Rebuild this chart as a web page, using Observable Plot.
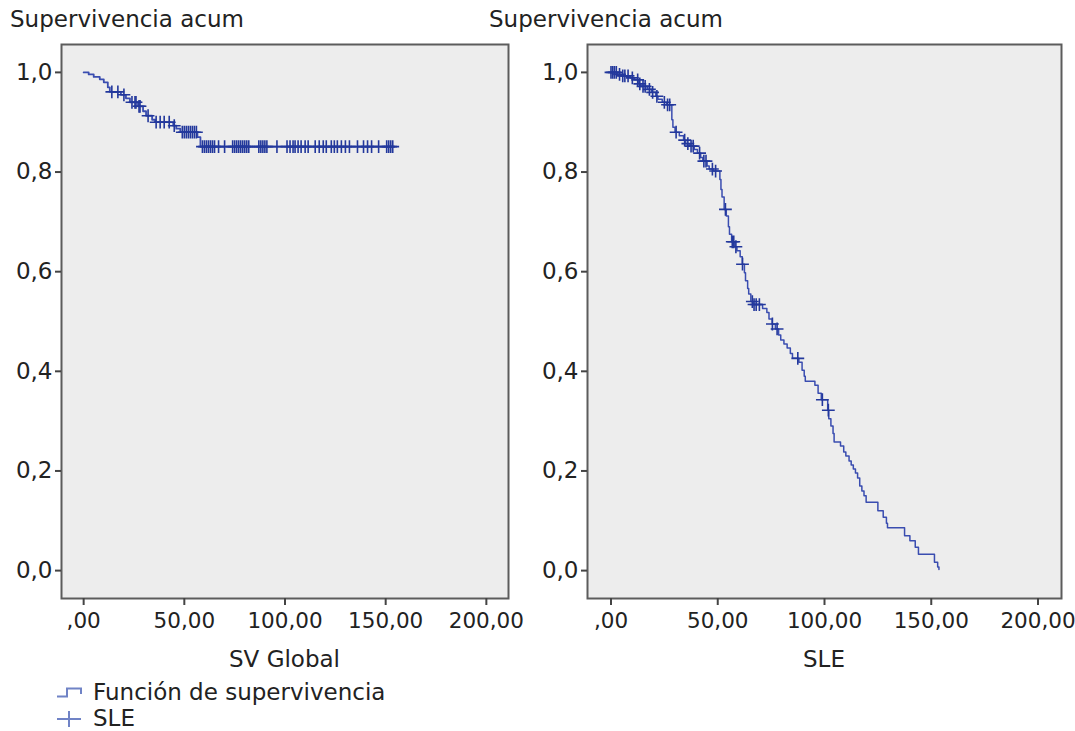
<!DOCTYPE html>
<html><head><meta charset="utf-8">
<script src="https://cdn.jsdelivr.net/npm/d3@7"></script>
<script src="https://cdn.jsdelivr.net/npm/@observablehq/plot@0.6"></script>
<style>
body{margin:0;background:#fff;font-family:"DejaVu Sans",sans-serif;color:#222;}
#wrap{position:relative;width:1075px;height:731px;overflow:hidden;background:#fff}
.t{position:absolute;font-size:23px;line-height:23px;white-space:nowrap;color:#222}
.p{position:absolute;top:0}
</style></head><body><div id="wrap"></div>
<script>
// ---- Data ----
const yTitle = "Supervivencia acum";
const leftXLabel = "SV Global";
const rightXLabel = "SLE";
const legendLabels = ["Función de supervivencia", "SLE"];

const xTickValues = [0, 50, 100, 150, 200];
const xTickLabels = [",00", "50,00", "100,00", "150,00", "200,00"];
const yTickValues = [0, 0.2, 0.4, 0.6, 0.8, 1.0];
const yTickLabels = ["0,0", "0,2", "0,4", "0,6", "0,8", "1,0"];

// Left panel: SV Global (step times and survival after each step; last = end of follow-up)
const leftStepTimes = [0, 2.5, 5, 8, 10, 12, 13, 18.5, 21, 23, 27, 29.5, 31, 34, 35.5, 44.5, 46, 48, 56.5, 58, 154];
const leftStepSurv  = [1.000, 0.996, 0.991, 0.986, 0.980, 0.970, 0.961, 0.955, 0.948, 0.940, 0.932, 0.922, 0.913, 0.905, 0.900, 0.893, 0.887, 0.880, 0.870, 0.851, 0.851];
const leftCensorTimes = [14, 17, 20, 24, 25.5, 26, 27.5, 28, 32, 36, 38, 40, 42.5, 45, 49, 50, 51, 52, 53, 54, 55, 56,
  59, 60, 61, 62, 63, 64, 65, 67, 70, 74, 75, 76, 77, 78, 79, 80, 81, 82, 87, 88, 89, 90, 91, 96, 101, 102.5, 104, 105,
  106.5, 108, 110, 111.5, 115, 117, 119, 120.5, 123, 124.5, 126, 128, 130, 132, 136, 139, 141, 143, 146.5, 150.5, 151.5, 152.5, 153.5];

// Right panel: SLE
const rightStepTimes = [0, 3, 5, 9, 11, 13, 14, 17, 19, 21, 22, 24, 26, 28.5, 29, 30, 32, 34, 35, 37, 39, 40.5, 42, 43, 45, 46, 48,
  51, 51.5, 52, 53, 54, 55, 55.5, 56.5, 58, 59, 60.5, 61.5, 62.5, 63, 64, 64.5, 65.5, 66.5, 71, 73, 74, 75.5, 77, 78.5, 79.5,
  81, 82.5, 84, 85, 88, 89.5, 90.5, 91, 95.5, 97, 98.5, 101.5, 102, 103, 104, 104.5, 107.5, 109, 110, 111.5, 112.5, 113.5,
  114.5, 115.5, 116.5, 117.5, 118.5, 119.5, 125, 127.5, 129, 129.5, 137.5, 140, 142.5, 144, 151.5, 153, 153.6];
const rightStepSurv = [1.000, 0.996, 0.993, 0.989, 0.985, 0.977, 0.972, 0.966, 0.960, 0.952, 0.946, 0.940, 0.935, 0.905, 0.890,
  0.880, 0.873, 0.864, 0.857, 0.852, 0.845, 0.838, 0.829, 0.822, 0.812, 0.806, 0.802,
  0.785, 0.765, 0.750, 0.725, 0.712, 0.690, 0.675, 0.660, 0.650, 0.642, 0.630, 0.615, 0.598, 0.582, 0.566, 0.555, 0.540, 0.534,
  0.526, 0.518, 0.505, 0.495, 0.485, 0.473, 0.463, 0.455, 0.447, 0.436, 0.426, 0.418, 0.402, 0.390, 0.380, 0.372, 0.356, 0.343,
  0.322, 0.305, 0.290, 0.275, 0.258, 0.250, 0.238, 0.230, 0.220, 0.212, 0.204, 0.196, 0.186, 0.170, 0.160, 0.150, 0.137,
  0.120, 0.107, 0.095, 0.086, 0.070, 0.060, 0.047, 0.033, 0.017, 0.007, 0.002];
const rightCensorTimes = [0, 0.8, 1.6, 2.5, 4, 5.5, 6.5, 8, 10, 12.5, 13.5, 15, 16, 18, 19.5, 21.5, 25, 26.5, 27.5, 30.5, 34.5,
  36, 37.5, 38.5, 41.5, 43.5, 44.5, 47.5, 49, 53.6, 56.8, 57.5, 58.5, 61.6, 66.2, 67, 68, 69.5, 75.6, 77.8, 87.5, 99, 101.8];

// ---- Drawing ----
const lineColor = "#3a4db0";
const markColor = "#23389c";
const wrap = document.getElementById("wrap");

function survAt(times, surv, t) {
  let s = surv[0];
  for (let i = 0; i < times.length; i++) if (times[i] <= t) s = surv[i];
  return s;
}

function panel(times, surv, censor, o) {
  const steps = times.map((t, i) => ({t, s: surv[i]}));
  const cens = censor.map(t => ({t, s: survAt(times, surv, t)}));
  const svg = Plot.plot({
    width: o.width, height: 640,
    marginTop: 44, marginBottom: 42, marginLeft: o.ml, marginRight: o.mr,
    style: {fontFamily: "DejaVu Sans", fontSize: "23px", color: "#222", background: "transparent", overflow: "visible"},
    x: {domain: [-11, 211]},
    y: {domain: [-0.056, 1.056]},
    marks: [
      Plot.frame({fill: "#ededed", stroke: "none"}),
      Plot.line(steps, {x: "t", y: "s", curve: "step-after", stroke: lineColor, strokeWidth: o.sw}),
      Plot.dot(cens, {x: "t", y: "s", symbol: "plus", r: 4.2, stroke: markColor, strokeWidth: 1.6}),
      Plot.frame({stroke: "#5c5c5c", strokeWidth: 2}),
      Plot.axisY({ticks: yTickValues, tickFormat: (d, i) => yTickLabels[i], tickSize: 6, tickPadding: 3,
        stroke: "#444", strokeWidth: 2, label: null, fontSize: 23, fill: "#222"}),
      Plot.axisX({ticks: xTickValues, tickFormat: (d, i) => xTickLabels[i], tickSize: 7, tickPadding: 7,
        stroke: "#444", strokeWidth: 2, label: null, fontSize: 21.5, fill: "#222"})
    ]
  });
  svg.classList.add("p");
  svg.style.left = o.left + "px";
  wrap.appendChild(svg);
}

panel(leftStepTimes, leftStepSurv, leftCensorTimes, {left: 0, width: 540, ml: 61, mr: 32, sw: 1.8});
panel(rightStepTimes, rightStepSurv, rightCensorTimes, {left: 530, width: 545, ml: 57, mr: 14, sw: 1.5});

function addText(txt, left, top, center) {
  const d = document.createElement("div");
  d.className = "t";
  d.textContent = txt;
  d.style.top = top + "px";
  if (center) { d.style.left = (left - 200) + "px"; d.style.width = "400px"; d.style.textAlign = "center"; }
  else d.style.left = left + "px";
  wrap.appendChild(d);
}
addText(yTitle, 10, 8);
addText(yTitle, 489, 8);
addText(leftXLabel, 284.5, 648, true);
addText(rightXLabel, 824, 648, true);
addText(legendLabels[0], 93, 681);
addText(legendLabels[1], 93, 707);

// legend symbols
const ns = "http://www.w3.org/2000/svg";
const lg = document.createElementNS(ns, "svg");
lg.setAttribute("width", 40); lg.setAttribute("height", 60);
lg.style.position = "absolute"; lg.style.left = "50px"; lg.style.top = "680px";
lg.innerHTML = '<path d="M7 16.5 H17 V8.5 H31 V14" fill="none" stroke="#7083c6" stroke-width="2"/>' +
  '<path d="M7 39 H31 M19 31 V47" fill="none" stroke="#7083c6" stroke-width="2"/>';
wrap.appendChild(lg);
</script></body></html>
